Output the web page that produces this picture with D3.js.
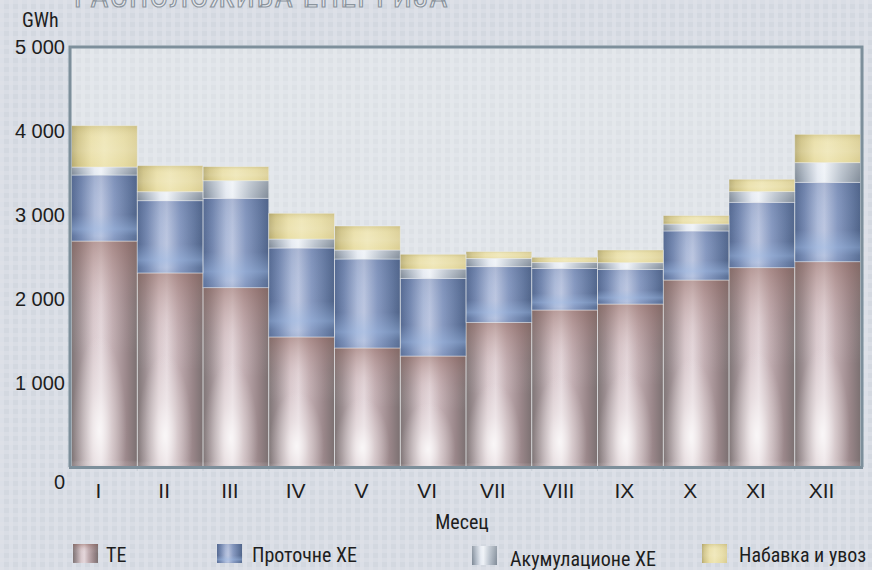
<!DOCTYPE html>
<html><head><meta charset="utf-8">
<script src="https://cdn.jsdelivr.net/npm/d3@7"></script>
<style>
html,body{margin:0;padding:0;background:#d6dbe2;}
svg{display:block;}
text{font-family:"Liberation Sans Narrow","Arial Narrow","Roboto Condensed",sans-serif;fill:#1e1e1e;}
</style></head>
<body>
<script>
const months = ["I","II","III","IV","V","VI","VII","VIII","IX","X","XI","XII"];
const seriesNames = ["ТЕ","Проточне ХЕ","Акумулационе ХЕ","Набавка и увоз"];
const te        = [2690,2310,2135,1548,1417,1321,1722,1869,1940,2226,2373,2444];
const protocne  = [ 786, 860,1064,1059,1059, 925, 663, 496, 413, 584, 778, 945];
const akum      = [  95, 107, 209, 107, 107, 111,  99,  72,  79,  83, 127, 234];
const nabavka   = [ 492, 310, 167, 306, 286, 175,  79,  59, 151,  99, 147, 337];
const yTicks = [0,1000,2000,3000,4000,5000];
const titleText = "РАСПОЛОЖИВА ЕНЕРГИЈА";
const yUnit = "GWh";
const xTitle = "Месец";

const W = 872, H = 570;
const svg = d3.select("body").append("svg").attr("width",W).attr("height",H);
const defs = svg.append("defs");

// background plaid pattern
const pat = defs.append("pattern").attr("id","plaid").attr("patternUnits","userSpaceOnUse").attr("width",9).attr("height",9);
pat.append("rect").attr("width",9).attr("height",9).attr("fill","#d3d8e0");
pat.append("rect").attr("x",0).attr("width",4).attr("height",9).attr("fill","#dde1e8").attr("opacity",0.8);
pat.append("rect").attr("y",0).attr("width",9).attr("height",4).attr("fill","#dde1e8").attr("opacity",0.6);
const pat2 = defs.append("pattern").attr("id","plaid2").attr("patternUnits","userSpaceOnUse").attr("width",9).attr("height",9);
pat2.append("rect").attr("width",9).attr("height",9).attr("fill","#dde1e6");
pat2.append("rect").attr("x",0).attr("width",4).attr("height",9).attr("fill","#e5e8ec").attr("opacity",0.8);
pat2.append("rect").attr("y",0).attr("width",9).attr("height",4).attr("fill","#e5e8ec").attr("opacity",0.6);

function hgrad(id, stops){
  const g = defs.append("linearGradient").attr("id",id).attr("x1",0).attr("x2",1).attr("y1",0).attr("y2",0);
  stops.forEach(s=>g.append("stop").attr("offset",s[0]).attr("stop-color",s[1]).attr("stop-opacity",s[2]===undefined?1:s[2]));
}
function vgrad(id, stops){
  const g = defs.append("linearGradient").attr("id",id).attr("x1",0).attr("x2",0).attr("y1",0).attr("y2",1);
  stops.forEach(s=>g.append("stop").attr("offset",s[0]).attr("stop-color",s[1]).attr("stop-opacity",s[2]===undefined?1:s[2]));
}
function rgrad(id, cx, cy, r, stops){
  const g = defs.append("radialGradient").attr("id",id).attr("cx",cx).attr("cy",cy).attr("r",r);
  stops.forEach(s=>g.append("stop").attr("offset",s[0]).attr("stop-color",s[1]).attr("stop-opacity",s[2]===undefined?1:s[2]));
}
hgrad("g0",[[0,"#7f7576"],[0.12,"#9c8e91"],[0.33,"#d9c9cd"],[0.45,"#e4d7db"],[0.62,"#c2aeb2"],[0.85,"#988588"],[1,"#7b7071"]]);
vgrad("v0",[[0,"#8a5e55",0.45],[0.25,"#b08a86",0.12],[0.5,"#ffffff",0],[0.97,"#ffffff",0],[1,"#b09aa0",0.3]]);
rgrad("r0",0.42,0.84,0.42,[[0,"#ffffff",0.8],[0.45,"#ffffff",0.35],[1,"#ffffff",0]]);
hgrad("g1",[[0,"#546890"],[0.15,"#7588b0"],[0.35,"#aebbd9"],[0.45,"#bcc6e0"],[0.65,"#8799c0"],[0.88,"#62769d"],[1,"#4f6388"]]);
vgrad("v1",[[0,"#4f6590",0.15],[0.6,"#9ab8e0",0],[0.82,"#9dbbe6",0.45],[0.92,"#9dbbe6",0.15],[1,"#6f86b0",0.2]]);
hgrad("g2",[[0,"#7c8794"],[0.15,"#a9b3c0"],[0.35,"#e4e9f1"],[0.45,"#eef2f7"],[0.7,"#b7c0cb"],[1,"#808b98"]]);
vgrad("v2",[[0,"#ffffff",0.2],[1,"#ffffff",0]]);
hgrad("g3",[[0,"#b4a86d"],[0.1,"#cfc283"],[0.3,"#e9dea5"],[0.5,"#eee5b3"],[0.8,"#e5daa0"],[1,"#d9cc90"]]);
vgrad("v3",[[0,"#a89a5a",0.25],[0.3,"#ffffff",0.1],[0.6,"#ffffff",0.15],[1,"#ffffff",0]]);

svg.append("rect").attr("width",W).attr("height",H).attr("fill","url(#plaid)");

// title (partly clipped at top, as in the reference)
svg.append("text").attr("x",74).attr("y",7).attr("font-size",31).attr("letter-spacing",1.5)
  .style("fill","#e6e9ee").attr("stroke","#8b949d").attr("stroke-width",1.2).text(titleText);

const X0 = 70, X1 = 862, Y0 = 47, Y1 = 467;
const y = d3.scaleLinear().domain([0,5000]).range([Y1,Y0]);
const x = d3.scaleBand().domain(months).range([X0+1.5, X1-1.5]).padding(0);

svg.append("rect").attr("x",X0).attr("y",Y0).attr("width",X1-X0).attr("height",Y1-Y0).attr("fill","url(#plaid2)");

const series = [te, protocne, akum, nabavka];
const rows = months.map((m,i)=>{ const o={m}; series.forEach((s,k)=>o["s"+k]=s[i]); return o; });
const stack = d3.stack().keys(["s0","s1","s2","s3"])(rows);

const gBars = svg.append("g");
stack.forEach((layer,k)=>{
  const g = gBars.append("g");
  const fills = [`url(#g${k})`, `url(#v${k})`].concat(k===0 ? ["url(#r0)"] : []);
  fills.forEach((f,j)=>{
    g.selectAll("rect.l"+j).data(layer).join("rect").attr("class","l"+j)
      .attr("x",d=>x(d.data.m)).attr("width",x.bandwidth())
      .attr("y",d=>y(d[1])).attr("height",d=>y(d[0])-y(d[1]))
      .attr("fill",f);
  });
  g.selectAll("rect.s").data(layer).join("rect").attr("class","s")
    .attr("x",d=>x(d.data.m)).attr("width",x.bandwidth())
    .attr("y",d=>y(d[1])).attr("height",d=>y(d[0])-y(d[1]))
    .attr("fill","none").attr("stroke","#eef0f3").attr("stroke-opacity",0.55).attr("stroke-width",0.8);
});

// frame: top, left, right, bottom
svg.append("path")
  .attr("d",`M${X0},${Y1}V${Y0}H${X1}V${Y1}`)
  .attr("fill","none").attr("stroke","#7d8f9b").attr("stroke-width",3);
svg.append("line").attr("x1",X0-1).attr("x2",X1+1).attr("y1",Y1+0.5).attr("y2",Y1+0.5)
  .attr("stroke","#7d8f9b").attr("stroke-width",3);
// small ticks at band boundaries
svg.append("g").selectAll("line").data(months.slice(1)).join("line")
  .attr("x1",d=>x(d)).attr("x2",d=>x(d)).attr("y1",Y1+2).attr("y2",Y1+4)
  .attr("stroke","#c7ced6").attr("stroke-width",1);

// y axis labels
const fmt = v => v===0 ? "0" : d3.format(",")(v).replace(/,/g," ");
const yAxis = d3.axisLeft(y).tickValues(yTicks).tickFormat(fmt).tickSize(0).tickPadding(0);
const ga = svg.append("g").attr("transform",`translate(65,0)`).call(yAxis);
ga.select(".domain").remove();
ga.selectAll("text").attr("font-size",20).style("font-family","'Liberation Sans Narrow','Arial Narrow',sans-serif").attr("fill","#1e1e1e")
  .attr("dy",(d)=> d===0 ? "1.05em" : "0.34em");

svg.append("text").attr("x",22).attr("y",27).attr("font-size",20).text(yUnit);

// x axis labels
const xAxis = d3.axisBottom(x).tickSize(0).tickPadding(0);
const gx = svg.append("g").attr("transform",`translate(-6,${Y1})`).call(xAxis);
gx.select(".domain").remove();
gx.selectAll("text").attr("font-size",21).style("font-family","'Liberation Sans Narrow','Arial Narrow',sans-serif").attr("fill","#1e1e1e")
  .attr("y",31).attr("dy",0);

svg.append("text").attr("x",462).attr("y",529).attr("text-anchor","middle").attr("font-size",20).text(xTitle);

// legend
const legend = [
  {sx:73, tx:106, sy:544, ty:562},
  {sx:217, tx:252, sy:544, ty:562},
  {sx:472, tx:510, sy:546, ty:566},
  {sx:702, tx:739, sy:544, ty:562}
];
legend.forEach((l,k)=>{
  svg.append("rect").attr("x",l.sx).attr("y",l.sy).attr("width",25).attr("height",19).attr("fill",`url(#g${k})`);
  svg.append("rect").attr("x",l.sx).attr("y",l.sy).attr("width",25).attr("height",19).attr("fill",`url(#v${k})`);
  svg.append("text").attr("x",l.tx).attr("y",l.ty).attr("font-size",20).text(seriesNames[k]);
});
</script>
</body></html>
